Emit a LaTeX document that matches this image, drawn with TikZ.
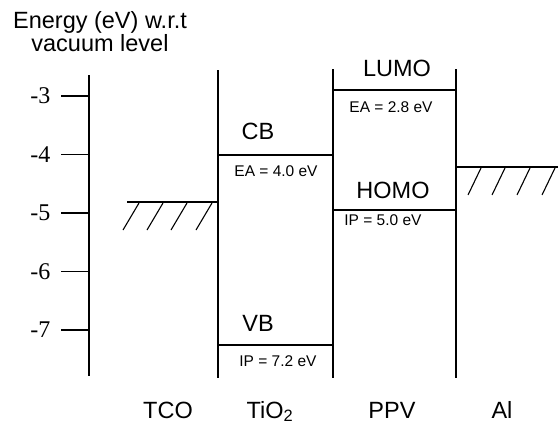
\documentclass[tikz,border=0pt]{standalone}
\usepackage{fontspec}
\setmainfont{Liberation Sans}
\newfontfamily\serifnum{Liberation Serif}
\begin{document}
\begin{tikzpicture}[x=1pt,y=-1pt, line width=1.3pt,
 bigl/.style={font=\fontsize{23.5}{26}\selectfont, inner sep=0pt},
 smalll/.style={font=\fontsize{15.5}{18}\selectfont, inner sep=0pt},
 tickl/.style={font=\serifnum\fontsize{24}{26}\selectfont, inner sep=0pt, anchor=east},
 hatch/.style={line width=1.1pt}]
\useasboundingbox (0,0) rectangle (558,431);
% title
\node[font=\fontsize{23.5}{20}\selectfont, inner sep=0pt, align=center, anchor=base]
  (title) at (100,51.5) {Energy (eV) w.r.t\\vacuum level};
% axis
\coordinate (axtop) at (89,75);
\coordinate (axbot) at (89,376);
\draw (axtop) -- (axbot);
\foreach \v [count=\i from 0] in {3,4,5,6,7} {
  \pgfmathsetmacro{\yy}{96+\i*58.5}
  \coordinate (tk\v) at (61,\yy);
  \coordinate (ta\v) at (89,\yy);
  \draw (tk\v) -- (ta\v);
  \node[tickl] (tl\v) at (51,\yy) {-\v};
}
% interfaces
\coordinate (iA1) at (218,70);  \coordinate (iA2) at (218,378);
\coordinate (iB1) at (333,69);  \coordinate (iB2) at (333,378);
\coordinate (iC1) at (456,69);  \coordinate (iC2) at (456,378);
\draw (iA1) -- (iA2);
\draw (iB1) -- (iB2);
\draw (iC1) -- (iC2);
% TCO Fermi level
\coordinate (tco1) at (127,202); \coordinate (tco2) at (218,202);
\draw (tco1) -- (tco2);
\foreach \x in {123,147,171,196} \draw[hatch] (\x,230) -- (\x+16,203);
% TiO2 levels
\coordinate (cb1) at (218,155); \coordinate (cb2) at (333,155);
\coordinate (vb1) at (218,345); \coordinate (vb2) at (333,345);
\draw (cb1) -- (cb2);
\draw (vb1) -- (vb2);
% PPV levels
\coordinate (lu1) at (333,90); \coordinate (lu2) at (456,90);
\coordinate (ho1) at (333,210); \coordinate (ho2) at (456,210);
\draw (lu1) -- (lu2);
\draw (ho1) -- (ho2);
% Al
\coordinate (al1) at (456,167); \coordinate (al2) at (558,167);
\draw (al1) -- (al2);
\foreach \x in {468,492,517,542} \draw[hatch] (\x,195) -- (\x+13,168);
% labels
\node[bigl] (cb) at (258,131) {CB};
\node[smalll] (ea4) at (276,171.5) {EA = 4.0 eV};
\node[bigl] (vb) at (258,323) {VB};
\node[smalll] (ip7) at (278,361) {IP = 7.2 eV};
\node[bigl] (lumo) at (397,68) {LUMO};
\node[smalll] (ea2) at (391,107.5) {EA = 2.8 eV};
\node[bigl] (homo) at (393,190) {HOMO};
\node[smalll] (ip5) at (383,220) {IP = 5.0 eV};
% bottom labels
\node[bigl, anchor=base] (tco) at (168,418) {TCO};
\node[bigl, anchor=base west] (tio) at (246,418) {TiO\textsubscript{2}};
\node[bigl, anchor=base] (ppv) at (392,418) {PPV};
\node[bigl, anchor=base] (al) at (502,418) {Al};
\end{tikzpicture}
\end{document}
